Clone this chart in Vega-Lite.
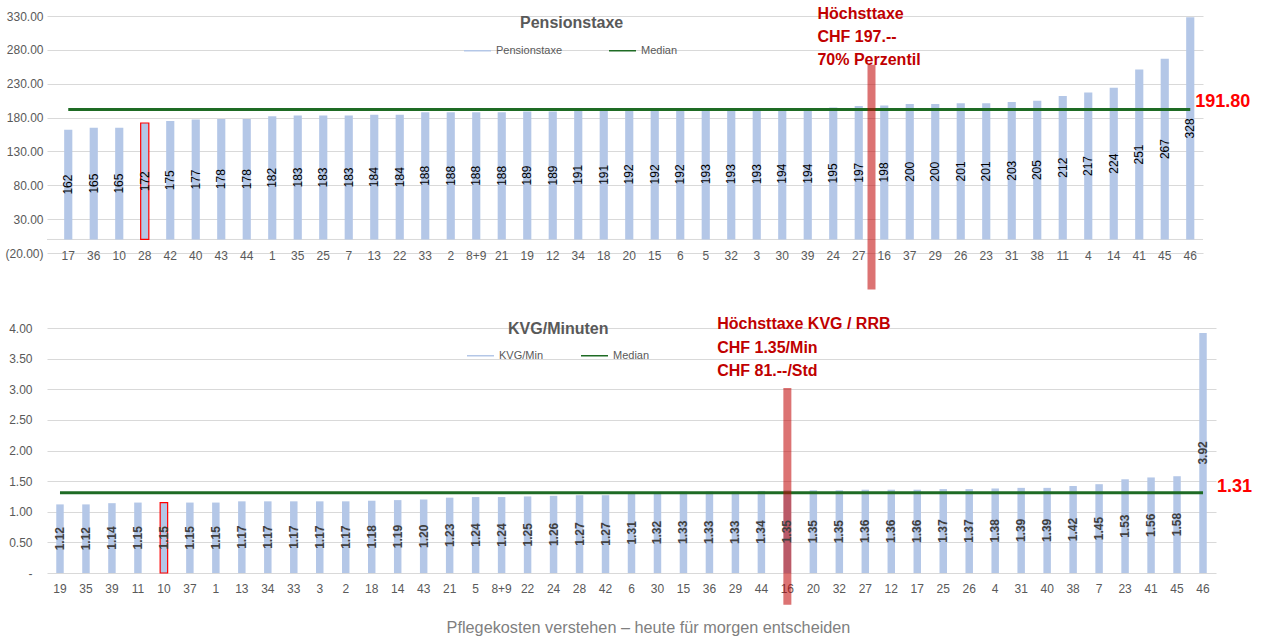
{
  "$schema": "https://vega.github.io/schema/vega-lite/v6.json",
  "background": "white",
  "padding": {"left": 4, "top": 5, "right": 0, "bottom": 0},
  "config": {"view": {"stroke": null}, "font": "Liberation Sans"},
  "datasets": {
    "top": [
      {"id": "17", "v": 162}, {"id": "36", "v": 165}, {"id": "10", "v": 165}, {"id": "28", "v": 172},
      {"id": "42", "v": 175}, {"id": "40", "v": 177}, {"id": "43", "v": 178}, {"id": "44", "v": 178},
      {"id": "1", "v": 182}, {"id": "35", "v": 183}, {"id": "25", "v": 183}, {"id": "7", "v": 183},
      {"id": "13", "v": 184}, {"id": "22", "v": 184}, {"id": "33", "v": 188}, {"id": "2", "v": 188},
      {"id": "8+9", "v": 188}, {"id": "21", "v": 188}, {"id": "19", "v": 189}, {"id": "12", "v": 189},
      {"id": "34", "v": 191}, {"id": "18", "v": 191}, {"id": "20", "v": 192}, {"id": "15", "v": 192},
      {"id": "6", "v": 192}, {"id": "5", "v": 193}, {"id": "32", "v": 193}, {"id": "3", "v": 193},
      {"id": "30", "v": 194}, {"id": "39", "v": 194}, {"id": "24", "v": 195}, {"id": "27", "v": 197},
      {"id": "16", "v": 198}, {"id": "37", "v": 200}, {"id": "29", "v": 200}, {"id": "26", "v": 201},
      {"id": "23", "v": 201}, {"id": "31", "v": 203}, {"id": "38", "v": 205}, {"id": "11", "v": 212},
      {"id": "4", "v": 217}, {"id": "14", "v": 224}, {"id": "41", "v": 251}, {"id": "45", "v": 267},
      {"id": "46", "v": 328}
    ],
    "bot": [
      {"id": "19", "v": 1.12}, {"id": "35", "v": 1.12}, {"id": "39", "v": 1.14}, {"id": "11", "v": 1.15},
      {"id": "10", "v": 1.15}, {"id": "37", "v": 1.15}, {"id": "1", "v": 1.15}, {"id": "13", "v": 1.17},
      {"id": "34", "v": 1.17}, {"id": "33", "v": 1.17}, {"id": "3", "v": 1.17}, {"id": "2", "v": 1.17},
      {"id": "18", "v": 1.18}, {"id": "14", "v": 1.19}, {"id": "43", "v": 1.20}, {"id": "21", "v": 1.23},
      {"id": "5", "v": 1.24}, {"id": "8+9", "v": 1.24}, {"id": "22", "v": 1.25}, {"id": "24", "v": 1.26},
      {"id": "28", "v": 1.27}, {"id": "42", "v": 1.27}, {"id": "6", "v": 1.31}, {"id": "30", "v": 1.32},
      {"id": "15", "v": 1.33}, {"id": "36", "v": 1.33}, {"id": "29", "v": 1.33}, {"id": "44", "v": 1.34},
      {"id": "16", "v": 1.35}, {"id": "20", "v": 1.35}, {"id": "32", "v": 1.35}, {"id": "27", "v": 1.36},
      {"id": "12", "v": 1.36}, {"id": "17", "v": 1.36}, {"id": "25", "v": 1.37}, {"id": "26", "v": 1.37},
      {"id": "4", "v": 1.38}, {"id": "31", "v": 1.39}, {"id": "40", "v": 1.39}, {"id": "38", "v": 1.42},
      {"id": "7", "v": 1.45}, {"id": "23", "v": 1.53}, {"id": "41", "v": 1.56}, {"id": "45", "v": 1.58},
      {"id": "46", "v": 3.92}
    ]
  },
  "title": {
    "text": "Pflegekosten verstehen – heute für morgen entscheiden",
    "orient": "bottom", "anchor": "middle", "fontSize": 16.25, "fontWeight": "normal",
    "color": "#7f7f7f", "font": "Liberation Sans", "offset": 11, "dx": 20
  },
  "spacing": 22,
  "resolve": {"scale": {"color": "independent"}, "legend": {"color": "independent"}},
  "vconcat": [
    {
      "width": 1156,
      "height": 237,
      "layer": [
        {
          "layer": [
            {
              "data": {"values": [{}]},
              "mark": {"type": "rule", "color": "#d9d9d9", "strokeWidth": 1},
              "encoding": {"y": {"datum": 0, "type": "quantitative", "title": null}}
            },
            {
              "data": {"name": "top"},
              "mark": {"type": "bar", "width": {"band": 0.32}, "strokeWidth": 1.2},
              "encoding": {
                "x": {
                  "field": "id", "type": "nominal", "title": null,
                  "scale": {
                    "domain": ["17","36","10","28","42","40","43","44","1","35","25","7","13","22","33","2","8+9","21","19","12","34","18","20","15","6","5","32","3","30","39","24","27","16","37","29","26","23","31","38","11","4","14","41","45","46"],
                    "paddingInner": 0, "paddingOuter": 0.1667, "align": 1
                  },
                  "axis": {"labelAngle": 0, "domain": false, "ticks": false, "grid": false, "labelPadding": -3, "labelColor": "#595959", "labelFontSize": 12}
                },
                "y": {
                  "field": "v", "type": "quantitative", "title": null,
                  "scale": {"domain": [-20, 330], "nice": false},
                  "axis": {
                    "values": [-20, 30, 80, 130, 180, 230, 280, 330], "tickCount": 20,
                    "labelExpr": "datum.value < 0 ? '(' + format(-datum.value, '.2f') + ')' : format(datum.value, '.2f')",
                    "grid": true, "gridColor": "#d9d9d9", "domain": false, "ticks": false, "labelOverlap": false,
                    "labelPadding": 4, "labelColor": "#595959", "labelFontSize": 12
                  }
                },
                "color": {
                  "datum": "Pensionstaxe",
                  "scale": {"domain": ["Pensionstaxe", "Median"], "range": ["#b4c7e7", "#1e6b24"]},
                  "legend": {
                    "orient": "none", "legendX": 416, "legendY": 20, "direction": "horizontal", "title": null,
                    "symbolType": "stroke", "symbolSize": 729, "labelFontSize": 11, "labelColor": "#595959",
                    "columnPadding": 43, "padding": 0,
                    "encode": {"symbols": {"update": {
                      "stroke": {"signal": "datum.value === 'Median' ? '#1e6b24' : '#b4c7e7'"},
                      "strokeWidth": {"signal": "datum.value === 'Median' ? 3 : 7"},
                      "opacity": {"value": 1}
                    }}}
                  }
                },
                "stroke": {"condition": {"test": "datum.id === '28'", "value": "#ff0000"}, "value": "transparent"}
              }
            },
            {
              "data": {"values": [{"a": "17", "b": "46", "m": 191.8}]},
              "mark": {"type": "rule", "strokeWidth": 3},
              "encoding": {
                "x": {"field": "a", "type": "nominal", "title": null},
                "x2": {"field": "b"},
                "y": {"field": "m", "type": "quantitative", "title": null},
                "color": {"datum": "Median"}
              }
            },
            {
              "data": {"values": [{"id": "27", "lo": -74, "hi": 258}]},
              "mark": {"type": "rule", "strokeWidth": 8, "color": "#c00000", "opacity": 0.55},
              "encoding": {
                "x": {"field": "id", "type": "nominal", "bandPosition": 1, "title": null},
                "y": {"field": "lo", "type": "quantitative", "title": null},
                "y2": {"field": "hi"}
              }
            },
            {
              "data": {"values": [{"id": "39", "y": 325.6, "t": "Höchsttaxe\nCHF 197.--\n70% Perzentil"}]},
              "mark": {"type": "text", "lineBreak": "\n", "lineHeight": 23, "align": "left", "baseline": "alphabetic", "fontSize": 16, "fontWeight": "bold", "color": "#c00000"},
              "encoding": {
                "x": {"field": "id", "type": "nominal", "bandPosition": 0.88, "title": null},
                "y": {"field": "y", "type": "quantitative", "title": null},
                "text": {"field": "t"}
              }
            },
            {
              "data": {"values": [{"id": "46", "y": 191.8, "t": "191.80"}]},
              "mark": {"type": "text", "align": "left", "baseline": "middle", "dx": 5, "dy": -8, "fontSize": 18, "fontWeight": "bold", "color": "#ff0000"},
              "encoding": {
                "x": {"field": "id", "type": "nominal", "title": null},
                "y": {"field": "y", "type": "quantitative", "title": null},
                "text": {"field": "t"}
              }
            },
            {
              "data": {"values": [{"id": "34", "y": 319.6, "t": "Pensionstaxe"}]},
              "mark": {"type": "text", "align": "center", "baseline": "middle", "fontSize": 16, "fontWeight": "bold", "color": "#595959"},
              "encoding": {
                "x": {"field": "id", "type": "nominal", "bandPosition": 0.24, "title": null},
                "y": {"field": "y", "type": "quantitative", "title": null},
                "text": {"field": "t"}
              }
            }
          ]
        },
        {
          "data": {"name": "top"},
          "mark": {"type": "text", "angle": 270, "align": "center", "baseline": "middle", "fontSize": 12, "color": "#000000"},
          "encoding": {
            "x": {"field": "id", "type": "nominal", "title": null},
            "y": {"field": "v", "type": "quantitative", "title": null, "scale": {"domain": [-40, 660], "nice": false}, "axis": null},
            "text": {"field": "v", "type": "quantitative", "format": "d"}
          }
        }
      ],
      "resolve": {"scale": {"y": "independent"}}
    },
    {
      "width": 1169,
      "height": 245,
      "layer": [
        {
          "layer": [
            {
              "data": {"name": "bot"},
              "mark": {"type": "bar", "width": {"band": 0.32}, "strokeWidth": 1.2},
              "encoding": {
                "x": {
                  "field": "id", "type": "nominal", "title": null,
                  "scale": {"domain": ["19","35","39","11","10","37","1","13","34","33","3","2","18","14","43","21","5","8+9","22","24","28","42","6","30","15","36","29","44","16","20","32","27","12","17","25","26","4","31","40","38","7","23","41","45","46"]},
                  "axis": {"labelAngle": 0, "domain": false, "ticks": false, "grid": false, "labelPadding": 10, "labelColor": "#595959", "labelFontSize": 12}
                },
                "y": {
                  "field": "v", "type": "quantitative", "title": null,
                  "scale": {"domain": [0, 4], "nice": false},
                  "axis": {
                    "values": [0, 0.5, 1, 1.5, 2, 2.5, 3, 3.5, 4], "tickCount": 20,
                    "labelExpr": "datum.value === 0 ? '-\u00a0\u00a0' : format(datum.value, '.2f')",
                    "grid": true, "gridColor": "#d9d9d9", "domain": false, "ticks": false, "labelOverlap": false,
                    "labelPadding": 15, "labelColor": "#595959", "labelFontSize": 12
                  }
                },
                "color": {
                  "datum": "KVG/Min",
                  "scale": {"domain": ["KVG/Min", "Median"], "range": ["#b4c7e7", "#1e6b24"]},
                  "legend": {
                    "orient": "none", "legendX": 419, "legendY": 13, "direction": "horizontal", "title": null,
                    "symbolType": "stroke", "symbolSize": 729, "labelFontSize": 11, "labelColor": "#595959",
                    "columnPadding": 34, "padding": 0,
                    "encode": {"symbols": {"update": {
                      "stroke": {"signal": "datum.value === 'Median' ? '#1e6b24' : '#b4c7e7'"},
                      "strokeWidth": {"signal": "datum.value === 'Median' ? 3 : 7"},
                      "opacity": {"value": 1}
                    }}}
                  }
                },
                "stroke": {"condition": {"test": "datum.id === '10'", "value": "#ff0000"}, "value": "transparent"}
              }
            },
            {
              "data": {"values": [{"a": "19", "b": "46", "m": 1.31}]},
              "mark": {"type": "rule", "strokeWidth": 3},
              "encoding": {
                "x": {"field": "a", "type": "nominal", "title": null},
                "x2": {"field": "b"},
                "y": {"field": "m", "type": "quantitative", "title": null},
                "color": {"datum": "Median"}
              }
            },
            {
              "data": {"values": [{"id": "16", "lo": -0.52, "hi": 3.02}]},
              "mark": {"type": "rule", "strokeWidth": 8, "color": "#c00000", "opacity": 0.55},
              "encoding": {
                "x": {"field": "id", "type": "nominal", "title": null},
                "y": {"field": "lo", "type": "quantitative", "title": null},
                "y2": {"field": "hi"}
              }
            },
            {
              "data": {"values": [{"id": "36", "y": 3.98, "t": "Höchsttaxe KVG / RRB\nCHF 1.35/Min\nCHF 81.--/Std"}]},
              "mark": {"type": "text", "lineBreak": "\n", "lineHeight": 23.5, "align": "left", "baseline": "alphabetic", "fontSize": 16, "fontWeight": "bold", "color": "#c00000"},
              "encoding": {
                "x": {"field": "id", "type": "nominal", "bandPosition": 0.83, "title": null},
                "y": {"field": "y", "type": "quantitative", "title": null},
                "text": {"field": "t"}
              }
            },
            {
              "data": {"values": [{"id": "46", "y": 1.31, "t": "1.31"}]},
              "mark": {"type": "text", "align": "left", "baseline": "middle", "dx": 14, "dy": -6, "fontSize": 18, "fontWeight": "bold", "color": "#ff0000"},
              "encoding": {
                "x": {"field": "id", "type": "nominal", "title": null},
                "y": {"field": "y", "type": "quantitative", "title": null},
                "text": {"field": "t"}
              }
            },
            {
              "data": {"values": [{"id": "24", "y": 3.984, "t": "KVG/Minuten"}]},
              "mark": {"type": "text", "align": "center", "baseline": "middle", "fontSize": 16, "fontWeight": "bold", "color": "#595959"},
              "encoding": {
                "x": {"field": "id", "type": "nominal", "bandPosition": 0.7, "title": null},
                "y": {"field": "y", "type": "quantitative", "title": null},
                "text": {"field": "t"}
              }
            }
          ]
        },
        {
          "data": {"name": "bot"},
          "mark": {"type": "text", "angle": 270, "align": "center", "baseline": "middle", "fontSize": 12, "fontWeight": "bold", "color": "#404040"},
          "encoding": {
            "x": {"field": "id", "type": "nominal", "title": null},
            "y": {"field": "v", "type": "quantitative", "title": null, "scale": {"domain": [0, 8], "nice": false}, "axis": null},
            "text": {"field": "v", "type": "quantitative", "format": ".2f"}
          }
        }
      ],
      "resolve": {"scale": {"y": "independent"}}
    }
  ]
}
